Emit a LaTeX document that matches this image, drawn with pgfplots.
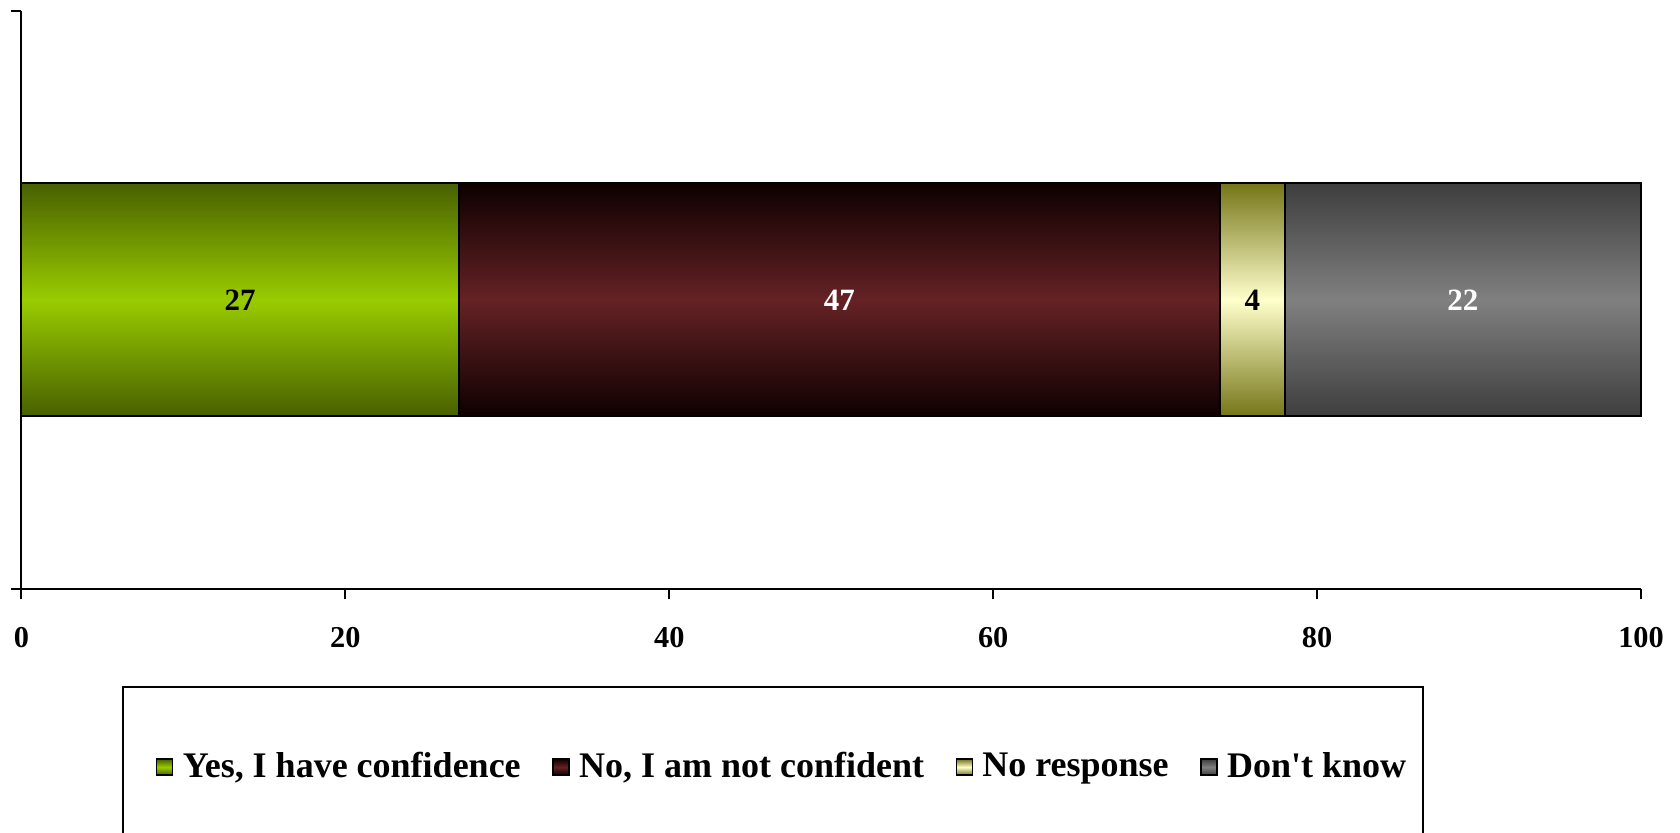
\documentclass[border=0pt]{standalone}
\usepackage{fontspec}
\setmainfont{Liberation Serif}
\usepackage{pgfplots}
\pgfplotsset{compat=1.18}

\definecolor{greenmid}{RGB}{153,204,0}
\definecolor{greenedge}{RGB}{72,96,0}
\definecolor{redmid}{RGB}{101,34,37}
\definecolor{rededge}{RGB}{14,0,0}
\definecolor{yelmid}{RGB}{255,255,204}
\definecolor{yeledge}{RGB}{117,117,24}
\definecolor{graymid}{RGB}{128,128,128}
\definecolor{grayedge}{RGB}{62,62,62}

\begin{document}
\begin{tikzpicture}
\begin{axis}[
    name=ax,
    at={(0,0)}, anchor=south west,
    scale only axis,
    width=485.9pt, height=173.5pt,
    xbar stacked,
    bar width=69.9pt,
    xmin=0, xmax=100,
    ymin=-1, ymax=1,
    xtick={0,20,...,100},
    ytick={-1,1},
    yticklabels={},
    axis x line*=bottom,
    axis y line*=left,
    axis line style={line width=0.6pt},
    tick style={line width=0.6pt, black},
    tick align=outside,
    major tick length=3pt,
    /pgf/number format/assume math mode=true,
    xticklabel style={font=\fontsize{9.1}{11}\selectfont\bfseries, anchor=center, yshift=-11.6pt},
    clip=false,
    nodes near coords,
    every node near coord/.append style={anchor=center,
        font=\fontsize{9.3}{11}\selectfont\bfseries},
    legend columns=-1,
    legend style={at={(0.4706,-0.308)}, anchor=center, draw=none, fill=none,
        font=\fontsize{10.8}{13}\selectfont\bfseries,
        nodes={inner xsep=1.5pt},
        /tikz/every odd column/.append style={column sep=1.3pt},
        /tikz/every even column/.append style={column sep=8pt}},
    legend image code/.code={\draw[#1, draw=black, line width=0.4pt] (0pt,-2.4pt) rectangle (4.8pt,2.4pt);},
]
\addplot[draw=black, line width=0.6pt, top color=greenedge, bottom color=greenedge, middle color=greenmid,
    every node near coord/.append style={text=black}] coordinates {(27,0)};
\addplot[draw=black, line width=0.6pt, top color=rededge, bottom color=rededge, middle color=redmid,
    every node near coord/.append style={text=white}] coordinates {(47,0)};
\addplot[draw=black, line width=0.6pt, top color=yeledge, bottom color=yeledge, middle color=yelmid,
    every node near coord/.append style={text=black}] coordinates {(4,0)};
\addplot[draw=black, line width=0.6pt, top color=grayedge, bottom color=grayedge, middle color=graymid,
    every node near coord/.append style={text=white}] coordinates {(22,0)};
\legend{{Yes, I have confidence}, {No, I am not confident}, {No response}, {Don\textquotesingle t know}}
\draw[line width=0.6pt] (axis description cs:0.0627,-0.46) -- (axis description cs:0.0627,-0.1695)
    -- (axis description cs:0.8654,-0.1695) -- (axis description cs:0.8654,-0.46);
\end{axis}
\pgfresetboundingbox
\path ([shift={(-6.42pt,176.7pt)}]ax.south west) rectangle ([shift={(497.58pt,-72.9pt)}]ax.south west);
\end{tikzpicture}
\end{document}
